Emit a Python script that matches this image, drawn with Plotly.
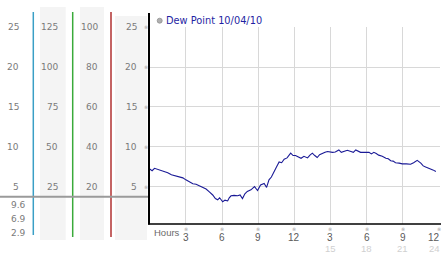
import plotly.graph_objects as go

W, H = 442, 253

# ---- data ----
hours = [0, 0.2, 0.4, 0.6, 0.83, 1.0, 1.24, 1.5, 1.8, 2.1, 2.48, 2.75, 3.0, 3.3, 3.58, 3.85,
         4.13, 4.4, 4.68, 4.95, 5.23, 5.45, 5.64, 5.8, 6.06, 6.25, 6.47, 6.6, 6.75, 7.0, 7.3,
         7.5, 7.7, 7.9, 8.1, 8.4, 8.7, 8.85, 8.95, 9.2, 9.5, 9.7, 9.9, 10.1, 10.3, 10.5, 10.74,
         10.95, 11.16, 11.4, 11.7, 11.9, 12.1, 12.3, 12.56, 12.8, 13.1, 13.3, 13.5, 13.7, 13.9,
         14.1, 14.35, 14.55, 14.76, 15.0, 15.17, 15.4, 15.7, 15.9, 16.1, 16.4, 16.7, 16.9, 17.1,
         17.3, 17.5, 17.8, 18.2, 18.4, 18.6, 18.8, 19.0, 19.3, 19.6, 19.8, 20.0, 20.2, 20.4,
         20.7, 20.96, 21.3, 21.65, 21.9, 22.2, 22.5, 22.7, 22.9, 23.1, 23.3, 23.5, 23.75]
dew_point = [7.2, 7.0, 7.3, 7.2, 7.1, 6.95, 6.9, 6.75, 6.5, 6.4, 6.2, 6.1, 5.85, 5.6, 5.35, 5.3,
             5.1, 4.9, 4.7, 4.35, 3.95, 3.5, 3.35, 3.6, 3.1, 3.3, 3.2, 3.6, 3.85, 3.9, 3.85,
             3.95, 3.5, 4.1, 4.4, 4.6, 5.0, 4.7, 4.5, 5.2, 5.4, 4.9, 5.85, 6.2, 6.9, 7.4, 8.1,
             8.0, 8.45, 8.6, 9.2, 8.9, 8.9, 8.7, 8.55, 8.8, 8.6, 8.95, 9.2, 8.9, 8.65,
             9.0, 9.2, 9.3, 9.4, 9.35, 9.3, 9.35, 9.6, 9.3, 9.4, 9.55, 9.4, 9.3, 9.6,
             9.45, 9.3, 9.3, 9.3, 9.1, 9.3, 9.15, 8.95, 8.8, 8.55, 8.5, 8.25, 8.2, 8.0,
             7.95, 7.85, 7.85, 7.8, 8.0, 8.3, 7.95, 7.6, 7.45, 7.35, 7.2, 7.1, 6.9]
series_name = "Dew Point 10/04/10"

x_tick_vals = [3, 6, 9, 12, 15, 18, 21, 24]
x_tick_text = ["3", "6", "9", "12", "3", "6", "9", "12"]
x_second_vals = [15, 18, 21, 24]
x_second_text = ["15", "18", "21", "24"]

y_tick_vals = [5, 10, 15, 20, 25]
col1_labels = ["5", "10", "15", "20", "25"]
col2_labels = ["25", "50", "75", "100", "125"]
col3_labels = ["20", "40", "60", "80", "100"]
col4_labels = ["5", "10", "15", "20", "25"]
low_labels = ["9.6", "6.9", "2.9"]


def px(x):
    return x / W


def py(y):
    return 1 - y / H


fig = go.Figure()
fig.add_trace(go.Scatter(x=hours, y=dew_point, mode="lines",
                         line=dict(color="#1a1a96", width=1.1), showlegend=False,
                         hoverinfo="skip"))

shapes = []
# left panel backgrounds
for x0, x1, y0, y1 in [(40, 65.7, 7, 240), (80, 104, 7, 240), (115, 147, 16, 240)]:
    shapes.append(dict(type="rect", xref="paper", yref="paper", x0=px(x0), x1=px(x1),
                       y0=py(y1), y1=py(y0), fillcolor="#f4f4f4", line=dict(width=0),
                       layer="below"))
# coloured separators
for x, col, yb in [(33.3, "#3a9fc6", 235), (72.7, "#3aaa3a", 237), (111, "#b03030", 237)]:
    shapes.append(dict(type="line", xref="paper", yref="paper", x0=px(x), x1=px(x),
                       y0=py(yb), y1=py(12), line=dict(color=col, width=1.5)))
# horizontal gray line
shapes.append(dict(type="line", xref="paper", yref="paper", x0=0, x1=px(149),
                   y0=py(196.7), y1=py(196.7), line=dict(color="#9a9a9a", width=2)))
# axis lines
shapes.append(dict(type="line", xref="paper", yref="paper", x0=px(149), x1=px(149),
                   y0=py(224.5), y1=py(13), line=dict(color="black", width=2)))
shapes.append(dict(type="line", xref="paper", yref="paper", x0=px(148), x1=px(441),
                   y0=py(224), y1=py(224), line=dict(color="black", width=1.5)))
# legend marker
shapes.append(dict(type="circle", xref="paper", yref="paper", x0=px(157.2), x1=px(162.2),
                   y0=py(23.2), y1=py(18.2), fillcolor="#b0b0b0",
                   line=dict(color="#909090", width=0.8)))

ann = []
lab_font = dict(family="DejaVu Sans", size=9, color="#7a7a7a")


def add_col(labels, xr):
    for lab, v in zip(labels, y_tick_vals):
        ann.append(dict(xref="paper", yref="y", x=px(xr), y=v, text=lab, showarrow=False,
                        xanchor="right", yanchor="middle", font=lab_font))


add_col(col1_labels, 20.5)
add_col(col2_labels, 60)
add_col(col3_labels, 99.5)
add_col(col4_labels, 138.5)
for v in y_tick_vals:
    ann.append(dict(xref="paper", yref="y", x=px(145.5), y=v, text="※", showarrow=False,
                    xanchor="center", yanchor="middle",
                    font=dict(family="DejaVu Sans", size=5, color="#a0a0a0")))
for lab, yy in zip(low_labels, [204.5, 219, 232.5]):
    ann.append(dict(xref="paper", yref="paper", x=px(27.5), y=py(yy), text=lab,
                    showarrow=False, xanchor="right", yanchor="middle", font=lab_font))

# x tick labels
n = len(x_tick_vals)
for i, (v, t) in enumerate(zip(x_tick_vals, x_tick_text)):
    last = i == n - 1
    ann.append(dict(xref="paper" if last else "x", yref="paper",
                    x=px(441.5) if last else v, y=py(237.8), text=t, showarrow=False,
                    xanchor="right" if last else "center", yanchor="middle",
                    font=dict(family="Liberation Sans", size=10, color="#5a5a5a")))
    ann.append(dict(xref="x", yref="paper", x=v, y=py(229.3), text="※", showarrow=False,
                    xanchor="center", yanchor="middle",
                    font=dict(family="DejaVu Sans", size=5, color="#a0a0a0")))
m = len(x_second_vals)
for i, (v, t) in enumerate(zip(x_second_vals, x_second_text)):
    last = i == m - 1
    ann.append(dict(xref="paper" if last else "x", yref="paper",
                    x=px(441.5) if last else v, y=py(248.3), text=t, showarrow=False,
                    xanchor="right" if last else "center", yanchor="middle",
                    font=dict(family="Liberation Sans", size=9.5, color="#d0d0d0")))
ann.append(dict(xref="paper", yref="paper", x=px(166.5), y=py(232), text="Hours",
                showarrow=False, xanchor="center", yanchor="middle",
                font=dict(family="Liberation Sans", size=9.5, color="#6a6a6a")))
# legend text
ann.append(dict(xref="paper", yref="paper", x=px(164), y=py(20.7), text=series_name,
                showarrow=False, xanchor="left", yanchor="middle",
                font=dict(family="DejaVu Sans", size=9.8, color="#1f1fa3")))

fig.update_layout(
    width=W, height=H, margin=dict(l=0, r=0, t=0, b=0),
    paper_bgcolor="white", plot_bgcolor="white",
    xaxis=dict(domain=[px(149.7), px(439.5)], range=[0, 24.05], tickvals=x_tick_vals,
               showticklabels=False, ticks="", showgrid=True, gridcolor="#d8d8d8",
               gridwidth=1, zeroline=False, showline=False),
    yaxis=dict(domain=[py(224), py(26.8)], range=[0.31, 25.05], tickvals=y_tick_vals,
               showticklabels=False, ticks="", showgrid=True, gridcolor="#d8d8d8",
               gridwidth=1, zeroline=False, showline=False),
    shapes=shapes, annotations=ann, showlegend=False,
)

fig.write_html("out.html")
